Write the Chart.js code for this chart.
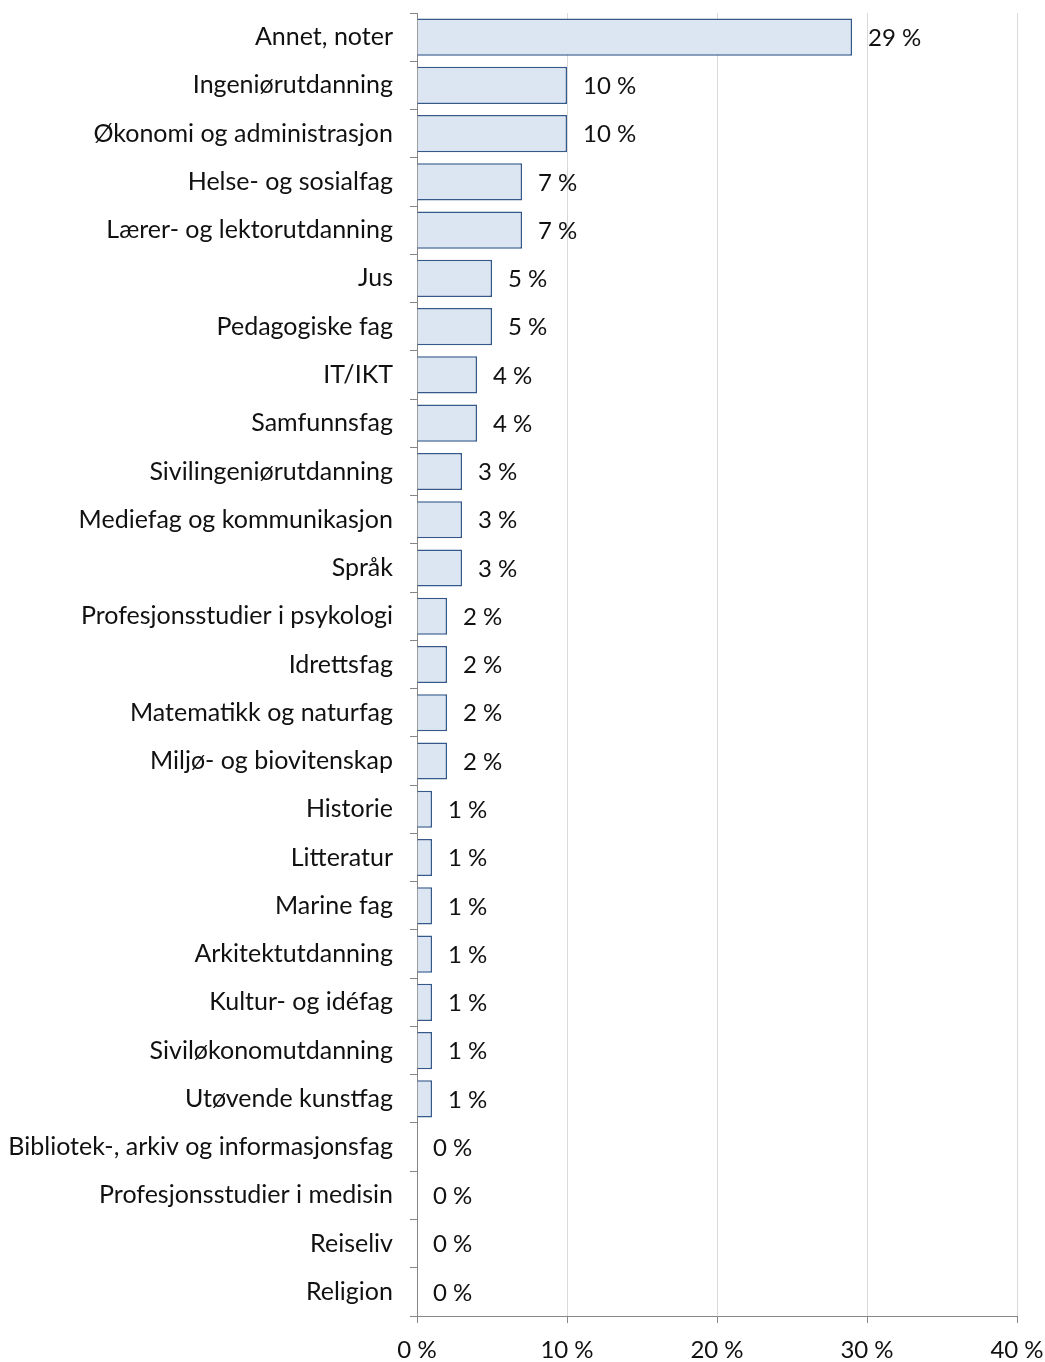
<!DOCTYPE html>
<html>
<head>
<meta charset="utf-8">
<script src="https://cdn.jsdelivr.net/npm/chart.js@4/dist/chart.umd.min.js"></script>
<style>
body{margin:0;background:#fff;}
</style>
</head>
<body>
<canvas id="chart" width="1045" height="1362"></canvas>
<script>
const categories = ["Annet, noter","Ingeniørutdanning","Økonomi og administrasjon","Helse- og sosialfag","Lærer- og lektorutdanning","Jus","Pedagogiske fag","IT/IKT","Samfunnsfag","Sivilingeniørutdanning","Mediefag og kommunikasjon","Språk","Profesjonsstudier i psykologi","Idrettsfag","Matematikk og naturfag","Miljø- og biovitenskap","Historie","Litteratur","Marine fag","Arkitektutdanning","Kultur- og idéfag","Siviløkonomutdanning","Utøvende kunstfag","Bibliotek-, arkiv og informasjonsfag","Profesjonsstudier i medisin","Reiseliv","Religion"];
const shares = [29,10,10,7,7,5,5,4,4,3,3,3,2,2,2,2,1,1,1,1,1,1,1,0,0,0,0];
const xTicks = [0,10,20,30,40];

const fontFamily = "Lato, 'Open Sans', sans-serif";

// labels to the right of each bar
const barLabels = {
id:"barLabels",
afterDatasetsDraw(chart){
const ctx = chart.ctx;
const meta = chart.getDatasetMeta(0);
ctx.save();
ctx.font = "24px " + fontFamily;
ctx.fillStyle = "#111";
ctx.textAlign = "left";
ctx.textBaseline = "middle";
meta.data.forEach((bar,i)=>{
ctx.fillText(shares[i] + " %", bar.x + 16, bar.y + 1);
});
ctx.restore();
}
};

new Chart(document.getElementById("chart"),{
type:"bar",
data:{
labels:categories,
datasets:[{
data:shares,
backgroundColor:"#dce6f2",
borderColor:"#34598a",
borderWidth:1.5,
barPercentage:0.77,
categoryPercentage:1
}]
},
options:{
indexAxis:"y",
responsive:false,
animation:false,
devicePixelRatio:1,
layout:{padding:{top:13,right:28,left:0,bottom:0}},
plugins:{legend:{display:false},tooltip:{enabled:false}},
scales:{
x:{
min:0,max:40,
afterBuildTicks(scale){ scale.ticks = xTicks.map(v=>({value:v})); },
ticks:{
callback:v=>v + " %",
font:{size:24,family:fontFamily},
color:"#111",
padding:13,
maxRotation:0
},
grid:{color:"#d9d9d9",tickColor:"#868686",tickLength:7,lineWidth:1},
border:{color:"#868686"},
afterFit(scale){ scale.height = 46; scale.paddingLeft = 0; scale.paddingRight = 0; }
},
y:{
ticks:{
font:{size:25,family:fontFamily},
color:"#111",
padding:17,
autoSkip:false
},
grid:{offset:true,drawOnChartArea:false,tickColor:"#868686",tickLength:7},
border:{color:"#868686"},
afterFit(scale){ scale.width = 417; scale.paddingTop = 0; scale.paddingBottom = 0; }
}
}
},
plugins:[barLabels]
});
</script>
</body>
</html>
